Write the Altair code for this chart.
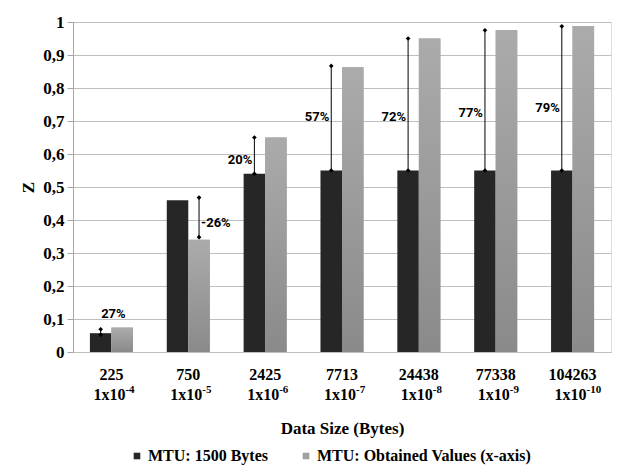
import altair as alt
import pandas as pd

# ---- data ----
sizes = ["225", "750", "2425", "7713", "24438", "77338", "104263"]
ber_base = ["1x10", "1x10", "1x10", "1x10", "1x10", "1x10", "1x10"]
ber_exp = ["-4", "-5", "-6", "-7", "-8", "-9", "-10"]
series_names = ["MTU: 1500 Bytes", "MTU: Obtained Values (x-axis)"]
mtu_1500 = [0.057, 0.46, 0.54, 0.55, 0.55, 0.55, 0.55]
mtu_obtained = [0.074, 0.34, 0.65, 0.863, 0.95, 0.976, 0.988]
y_ticks = [0, 0.1, 0.2, 0.3, 0.4, 0.5, 0.6, 0.7, 0.8, 0.9, 1]

# difference markers (vertical lines with end points) and percentage labels
diff_on = [0, 1, 0, 0, 0, 0, 0]          # index of the series the line stands on
diff_lo = [0.052, 0.348, 0.54, 0.55, 0.55, 0.55, 0.55]
diff_hi = [0.069, 0.468, 0.65, 0.867, 0.95, 0.975, 0.987]
pct_text = ["27%", "-26%", "20%", "57%", "72%", "77%", "79%"]
pct_y = [0.114, 0.392, 0.582, 0.712, 0.712, 0.725, 0.74]
pct_side = ["center", "left", "right", "right", "right", "right", "right"]

cats = sizes

bars = pd.DataFrame(
    [{"cat": c, "series": series_names[0], "value": v} for c, v in zip(cats, mtu_1500)]
    + [{"cat": c, "series": series_names[1], "value": v} for c, v in zip(cats, mtu_obtained)]
)
diffs = pd.DataFrame({
    "cat": cats,
    "series": [series_names[i] for i in diff_on],
    "lo": diff_lo,
    "hi": diff_hi,
    "pct": pct_text,
    "pct_y": pct_y,
    "side": pct_side,
})
bers = pd.DataFrame({"cat": cats, "base": ber_base, "exp": ber_exp})

SERIF = "Liberation Serif"
NARROW = "Liberation Sans Narrow, Roboto, sans-serif"
H = 330

x_axis = alt.Axis(
    title="Data Size (Bytes)", labelAngle=0,
    labelFont=SERIF, labelFontWeight="bold", labelFontSize=16,
    labelColor="black", labelPadding=14,
    ticks=False, domainColor="#bfbfbf",
    titleFont=SERIF, titleFontWeight="bold", titleFontSize=17,
    titleColor="black", titleY=81, titleBaseline="alphabetic",
)
x_scale = alt.Scale(paddingInner=0.44, paddingOuter=0.22)
xs = alt.X("cat:N", sort=cats, scale=x_scale, axis=x_axis)
xoff = alt.XOffset("series:N", sort=series_names,
                   scale=alt.Scale(domain=series_names, paddingInner=0, paddingOuter=0))
y_scale = alt.Scale(domain=[0, 1], nice=False)
y_axis = alt.Axis(
    title="Z", values=y_ticks,
    labelExpr="replace(format(datum.value, '.1~f'), '.', ',')",
    labelOverlap=False,
    labelFont=SERIF, labelFontWeight="bold", labelFontSize=17,
    labelColor="black", labelPadding=3,
    tickSize=6, tickColor="#a6a6a6", domainColor="#a6a6a6",
    gridColor="#bfbfbf", grid=True,
    titleFont=SERIF, titleFontWeight="bold", titleFontSize=17,
    titleColor="black", titleX=-45, titleY=165, titleAngle=-90,
    titleBaseline="middle", titleAlign="center",
)


def ys(field):
    return alt.Y(field, scale=y_scale, axis=y_axis, title="Z")


base_bars = alt.Chart(bars).mark_bar().encode(
    x=xs, xOffset=xoff, y=ys("value:Q"),
    color=alt.Color(
        "series:N", sort=series_names,
        scale=alt.Scale(domain=series_names, range=["#262626", "#a0a0a0"]),
        legend=alt.Legend(
            title=None, orient="none", legendX=56, legendY=426,
            direction="horizontal", columns=2, columnPadding=30,
            symbolType="square", symbolSize=44, symbolStrokeWidth=0,
            labelFont=SERIF, labelFontWeight="bold", labelFontSize=16,
            labelColor="black", labelOffset=3, padding=0, labelLimit=500,
        ),
    ),
)

grad = alt.Gradient(
    gradient="linear",
    stops=[alt.GradientStop(color="#ababab", offset=0),
           alt.GradientStop(color="#8a8a8a", offset=1)],
    x1=0, x2=0, y1=0, y2=1,
)
light_bars = alt.Chart(bars).transform_filter(
    alt.datum.series == series_names[1]
).mark_bar(color=grad).encode(x=xs, xOffset=xoff, y=ys("value:Q"))

rules = alt.Chart(diffs).mark_rule(color="black", strokeWidth=1).encode(
    x=xs, xOffset=xoff, y=ys("lo:Q"), y2="hi:Q",
)
pts_lo = alt.Chart(diffs).mark_point(shape="diamond", filled=True, size=22, color="black", opacity=1).encode(
    x=xs, xOffset=xoff, y=ys("lo:Q")
)
pts_hi = alt.Chart(diffs).mark_point(shape="diamond", filled=True, size=22, color="black", opacity=1).encode(
    x=xs, xOffset=xoff, y=ys("hi:Q")
)


def pct_layer(side, align, dx, use_off=True):
    enc = dict(x=xs, y=ys("pct_y:Q"), text="pct:N")
    if use_off:
        enc["xOffset"] = xoff
    return alt.Chart(diffs).transform_filter(alt.datum.side == side).mark_text(
        align=align, dx=dx, baseline="middle", font=NARROW, fontWeight="bold",
        fontSize=13, color="black",
    ).encode(**enc)


txt_c = pct_layer("center", "center", 2, use_off=False)
txt_l = pct_layer("left", "left", 2)
txt_r = pct_layer("right", "right", -2)

# second line of the category labels: "1x10" with a raised exponent
ber_main = alt.Chart(bers).mark_text(
    align="right", dx=14, baseline="alphabetic", font=SERIF, fontWeight="bold",
    fontSize=16, color="black",
).encode(x=xs, y=alt.value(H + 48), text="base:N")
ber_sup = alt.Chart(bers).mark_text(
    align="left", dx=14, baseline="alphabetic", font=SERIF, fontWeight="bold",
    fontSize=11, color="black",
).encode(x=xs, y=alt.value(H + 41), text="exp:N")

border = alt.Chart(bars).mark_rule(color="#c8c8c8", strokeWidth=1).encode(
    x=alt.value(-66), y=alt.value(-14), y2=alt.value(452)
)

chart = alt.layer(
    base_bars, light_bars, rules, pts_lo, pts_hi, txt_c, txt_l, txt_r,
    ber_main, ber_sup, border
).properties(
    width=538, height=H,
    autosize=alt.AutoSizeParams(type="none"),
    padding={"left": 65, "top": 14, "right": 1, "bottom": 114},
).configure_view(stroke=None).configure(background="white")

chart.save("out.html", embed_options={"renderer": "svg", "actions": False})
